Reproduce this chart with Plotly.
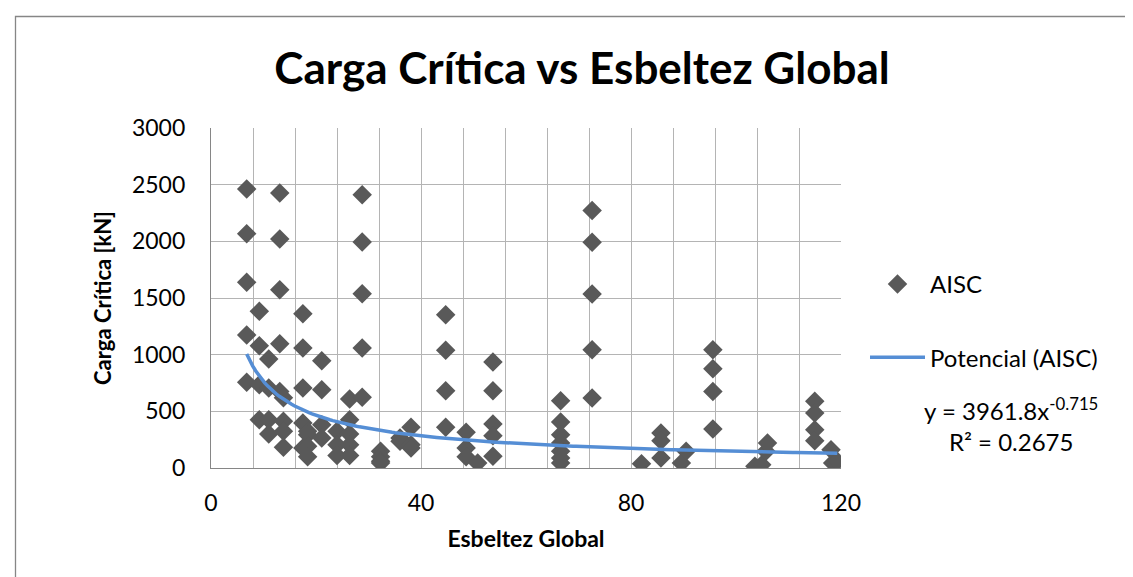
import plotly.graph_objects as go
import numpy as np

# ---- data (Esbeltez Global vs Carga Crítica [kN]) ----
esbeltez = [
    6.8, 6.8, 6.8, 6.8, 6.8,
    9.2, 9.2, 9.2, 9.2,
    11.0, 11.0, 11.0, 11.0,
    13.1, 13.1, 13.1, 13.1, 13.1,
    13.8, 13.8, 13.8, 13.8,
    17.5, 17.5, 17.5, 17.5, 17.5,
    18.4, 18.4, 18.4, 18.4,
    21.1, 21.1, 21.1, 21.1,
    24.0, 24.0, 24.0,
    26.4, 26.4, 26.4, 26.4, 26.4,
    28.8, 28.8, 28.8, 28.8, 28.8,
    32.3, 32.3, 32.3, 32.3,
    36.0, 36.0,
    38.1, 38.1, 38.1,
    44.7, 44.7, 44.7, 44.7,
    48.6, 48.6, 48.6,
    50.8,
    53.7, 53.7, 53.7, 53.7, 53.7,
    66.6, 66.6, 66.6, 66.6, 66.6, 66.6, 66.6,
    72.6, 72.6, 72.6, 72.6, 72.6,
    82.0,
    85.7, 85.7, 85.7,
    89.6, 90.5,
    95.6, 95.6, 95.6, 95.6,
    103.6, 104.9, 105.7, 106.0,
    115.0, 115.0, 115.0, 115.0,
    118.1, 118.4, 119.3,
]
carga = [
    2462, 2068, 1638, 1173, 756,
    1382, 1079, 735, 426,
    962, 706, 426, 300,
    2426, 2020, 1573, 1097, 676,
    620, 412, 324, 182,
    1362, 1059, 706, 397, 176,
    324, 294, 191, 100,
    947, 691, 382, 265,
    324, 206, 110,
    609, 426, 300, 206, 110,
    2412, 1994, 1538, 1059, 624,
    147, 100, 59, 44,
    265, 235,
    360, 206, 176,
    1353, 1038, 682, 359,
    315, 176, 100,
    44,
    935, 682, 388, 285, 103,
    594, 406, 294, 221, 147, 88, 44,
    2273, 1991, 1535, 1044, 618,
    38,
    309, 241, 88,
    44, 147,
    1044, 876, 676, 344,
    15, 29, 147, 221,
    588, 485, 338, 241,
    162, 44, 59,
]

# power trendline shown in the chart: y = a * x^b
trend_a = 3961.8
trend_b = -0.715
trend_r2 = 0.2675

x_labels = [0, 40, 80, 120]
y_labels = [0, 500, 1000, 1500, 2000, 2500, 3000]

FONT = "Lato"
W, H = 1133, 577
L, R, T, B = 203, 300, 120, 117
PW, PH = W - L - R, H - T - B

def px_x(p):
    return (p - L) / PW

def px_y(p):
    return (H - B - p) / PH

xt = np.linspace(min(esbeltez), max(esbeltez), 200)
yt = trend_a * xt ** trend_b

fig = go.Figure()
fig.add_trace(go.Scatter(
    x=esbeltez, y=carga, mode="markers", name="AISC",
    marker=dict(symbol="diamond", size=15, color="#595959", line=dict(width=0)),
    legendgroup="a",
))
fig.add_trace(go.Scatter(
    x=xt, y=yt, mode="lines", name="Potencial (AISC)",
    line=dict(color="#558ED5", width=3.5),
    legendgroup="b",
))

fig.update_layout(
    width=W, height=H,
    margin=dict(l=L, r=R, t=T, b=B),
    paper_bgcolor="white", plot_bgcolor="white",
    font=dict(family=FONT, size=23, color="black"),
    title=dict(
        text="<b>Carga Crítica vs Esbeltez Global</b>",
        x=574 / W, xanchor="center", y=1 - 61 / H, yanchor="middle",
        font=dict(family=FONT, size=44, color="black"),
    ),
    xaxis=dict(
        range=[0, 120], tickmode="array", tickvals=x_labels,
        ticktext=[str(v) for v in x_labels],
        showgrid=True, gridcolor="#B4B4B4", gridwidth=1,
        minor=dict(dtick=8, tick0=0, showgrid=True, gridcolor="#B4B4B4", gridwidth=1),
        showline=True, linecolor="#868686", linewidth=1.3, mirror=False,
        ticks="", zeroline=False, ticklabelstandoff=14,
        tickfont=dict(family=FONT, size=23, color="black"),
        title=dict(text="<b>Esbeltez Global</b>", standoff=16,
                   font=dict(family=FONT, size=23, color="black")),
    ),
    yaxis=dict(
        range=[0, 3000], tickmode="array", tickvals=y_labels,
        ticktext=[str(v) for v in y_labels],
        showgrid=True, gridcolor="#B4B4B4", gridwidth=1,
        showline=True, linecolor="#868686", linewidth=1.3, mirror=False,
        ticks="", zeroline=False, ticklabelstandoff=20,
        tickfont=dict(family=FONT, size=23, color="black"),
        title=dict(text="<b>Carga Crítica [kN]</b>", standoff=14,
                   font=dict(family=FONT, size=22, color="black")),
    ),
    legend=dict(
        x=px_x(857), xanchor="left", y=px_y(254), yanchor="top",
        font=dict(family=FONT, size=24, color="black"),
        bgcolor="rgba(0,0,0,0)", borderwidth=0,
        tracegroupgap=39, itemwidth=55,
    ),
    showlegend=True,
)

# trendline equation label
fig.add_annotation(
    xref="paper", yref="paper", x=px_x(1003), y=px_y(416),
    xanchor="center", yanchor="middle", showarrow=False, align="center",
    text=f"y = {trend_a}x<sup>{trend_b}</sup><br>R² = {trend_r2}",
    font=dict(family=FONT, size=24, color="black"),
)

# chart area border (only left and top edges visible in the crop)
fig.add_shape(
    type="rect", xref="paper", yref="paper",
    x0=px_x(7.5), x1=px_x(1200), y0=px_y(640), y1=px_y(8.5),
    line=dict(color="#868686", width=1.3), fillcolor="rgba(0,0,0,0)", layer="below",
)

fig.write_html("out.html")
